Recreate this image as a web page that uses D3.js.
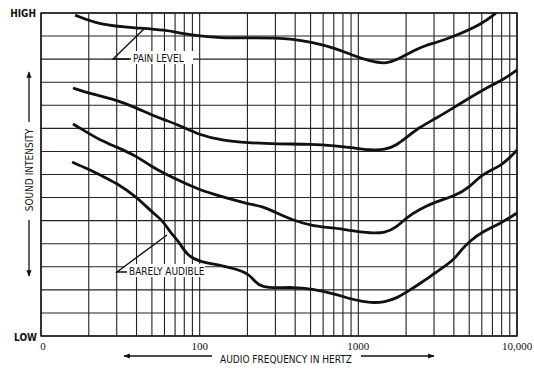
<!DOCTYPE html>
<html>
<head>
<meta charset="utf-8">
<script src="https://cdn.jsdelivr.net/npm/d3@7"></script>
<style>
  body { margin: 0; background: #fff; }
  text { fill: #111; }
  .lbl { font-family: "Liberation Sans Narrow", "DejaVu Sans Condensed", sans-serif; font-size: 10px; }
  .num { font-family: "Liberation Serif", serif; font-size: 11px; }
</style>
</head>
<body>
<svg id="chart" width="534" height="369"></svg>
<script>
// curve data: frequency (Hz) and intensity (grid units 0..14)
const painFreq = [16.4, 23.5, 40, 61, 75, 100, 134, 202, 307, 382, 510, 713, 940, 1184, 1472, 1753, 2448, 3043, 4064, 6012, 7380];
const painLevel = [13.91, 13.48, 13.35, 13.26, 13.13, 13.0, 12.92, 12.92, 12.92, 12.87, 12.74, 12.48, 12.14, 11.92, 11.79, 11.96, 12.53, 12.7, 13.0, 13.52, 14.0];

const upperFreq = [15.9, 19.8, 30, 40, 50, 60.5, 75, 100, 134, 202, 307, 510, 713, 940, 1184, 1472, 1753, 2028, 2448, 3043, 4064, 6012, 8166, 10000];
const upperLevel = [10.75, 10.53, 10.23, 9.88, 9.58, 9.36, 9.12, 8.71, 8.5, 8.37, 8.32, 8.32, 8.24, 8.15, 8.06, 8.06, 8.28, 8.63, 9.06, 9.41, 9.93, 10.66, 11.1, 11.53];

const middleFreq = [15.9, 19.8, 23.5, 30, 40, 50, 61, 75, 100, 134, 202, 247, 307, 382, 510, 713, 940, 1184, 1472, 1753, 2028, 2448, 3043, 4064, 5058, 6012, 8166, 10000];
const middleLevel = [9.19, 8.8, 8.5, 8.19, 7.8, 7.33, 7.02, 6.72, 6.33, 6.07, 5.72, 5.63, 5.33, 5.03, 4.77, 4.68, 4.55, 4.46, 4.46, 4.72, 5.16, 5.5, 5.81, 6.07, 6.46, 7.02, 7.41, 8.06];

const audibleFreq = [15.7, 19.8, 23.5, 30, 40, 50, 58, 65, 75, 83, 100, 134, 202, 223, 247, 307, 382, 510, 713, 940, 1202, 1472, 1753, 2028, 2483, 3043, 4008, 4436, 5058, 6012, 8166, 10000];
const audibleLevel = [7.54, 7.24, 6.98, 6.63, 6.03, 5.37, 5.03, 4.51, 4.03, 3.51, 3.21, 3.08, 2.77, 2.34, 2.12, 2.08, 2.12, 2.04, 1.82, 1.56, 1.43, 1.47, 1.65, 1.91, 2.3, 2.73, 3.29, 3.73, 4.12, 4.51, 4.94, 5.33];

const freqLabels = [10, 100, 1000, 10000];
const freqText = ["0", "100", "1000", "10,000"];

const svg = d3.select("#chart");

const x = d3.scaleLog().domain([10, 10000]).range([41, 517]);
const y = d3.scaleLinear().domain([0, 14]).range([336, 13]);

// grid
svg.append("g").selectAll("line")
  .data(x.ticks())
  .enter().append("line")
  .attr("x1", d => x(d)).attr("x2", d => x(d))
  .attr("y1", y(0)).attr("y2", y(14))
  .attr("stroke", "#222").attr("stroke-width", 1.1);

svg.append("g").selectAll("line")
  .data(d3.range(0, 15))
  .enter().append("line")
  .attr("x1", x(10)).attr("x2", x(10000))
  .attr("y1", d => y(d)).attr("y2", d => y(d))
  .attr("stroke", "#222").attr("stroke-width", 1.1);

svg.append("rect")
  .attr("x", x(10)).attr("y", y(14))
  .attr("width", x(10000) - x(10)).attr("height", y(0) - y(14))
  .attr("fill", "none").attr("stroke", "#111").attr("stroke-width", 1.4);

// curves
const line = d3.line()
  .x(d => x(d[0]))
  .y(d => y(d[1]))
  .curve(d3.curveBasis);

[[painFreq, painLevel], [upperFreq, upperLevel], [middleFreq, middleLevel], [audibleFreq, audibleLevel]]
  .forEach(([f, v]) => {
    svg.append("path")
      .datum(d3.zip(f, v))
      .attr("d", line)
      .attr("fill", "none")
      .attr("stroke", "#111")
      .attr("stroke-width", 2.8)
      .attr("stroke-linejoin", "round");
  });

// annotations
function note(text, tx, ty, bx, px, py, w) {
  svg.append("rect")
    .attr("x", tx - 4).attr("y", ty - 7)
    .attr("width", w).attr("height", 13)
    .attr("fill", "#fff");
  svg.append("path")
    .attr("d", `M${tx - 2},${ty + 1}H${bx}L${px},${py}`)
    .attr("fill", "none").attr("stroke", "#111").attr("stroke-width", 1.4);
  svg.append("text")
    .attr("class", "lbl")
    .attr("x", tx).attr("y", ty + 3.5)
    .text(text);
}

note("PAIN LEVEL", 133, 58, 113, 144, 29, 64);
note("BARELY AUDIBLE", 129, 271, 117, 167, 235, 80);

// axis texts
svg.append("text").attr("class", "lbl").attr("x", 36).attr("y", 17)
  .attr("text-anchor", "end").style("font-weight", "bold").text("HIGH");
svg.append("text").attr("class", "lbl").attr("x", 37).attr("y", 341)
  .attr("text-anchor", "end").style("font-weight", "bold").text("LOW");

svg.append("g").selectAll("text")
  .data(freqLabels)
  .enter().append("text")
  .attr("class", "num")
  .attr("x", (d, i) => i === 0 ? x(d) + 2 : x(d))
  .attr("y", 350)
  .attr("text-anchor", "middle")
  .text((d, i) => freqText[i]);

svg.append("text").attr("class", "lbl")
  .attr("x", 286).attr("y", 363)
  .attr("text-anchor", "middle")
  .text("AUDIO FREQUENCY IN HERTZ");

svg.append("text").attr("class", "lbl")
  .attr("transform", "translate(33,170) rotate(-90)")
  .attr("text-anchor", "middle")
  .text("SOUND INTENSITY");

// arrows
svg.append("defs").append("marker")
  .attr("id", "tip").attr("viewBox", "0 0 10 10")
  .attr("refX", 9).attr("refY", 5)
  .attr("markerWidth", 6).attr("markerHeight", 5)
  .attr("orient", "auto")
  .append("path").attr("d", "M0,1L10,5L0,9Z").attr("fill", "#111");

const arrows = [[212, 356, 124, 356], [361, 356, 434, 356], [29, 122, 29, 72], [29, 220, 29, 276]];
svg.append("g").selectAll("line")
  .data(arrows)
  .enter().append("line")
  .attr("x1", d => d[0]).attr("y1", d => d[1])
  .attr("x2", d => d[2]).attr("y2", d => d[3])
  .attr("stroke", "#111").attr("stroke-width", 1.3)
  .attr("marker-end", "url(#tip)");
</script>
</body>
</html>
